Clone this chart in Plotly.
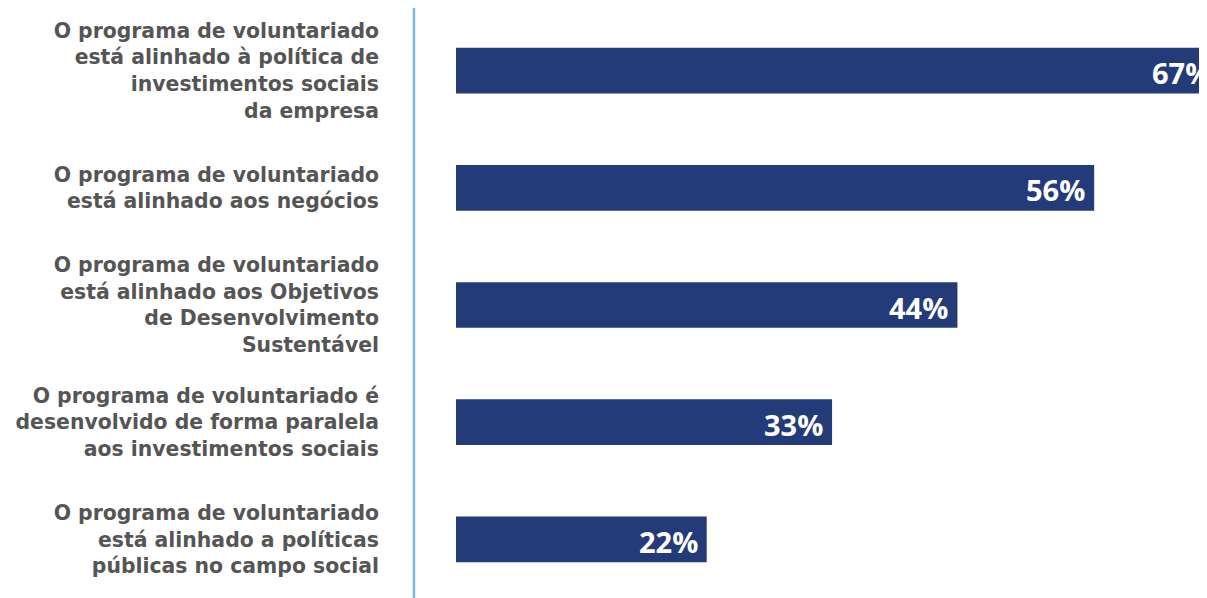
import plotly.graph_objects as go

categories = [
    "O programa de voluntariado<br>está alinhado à política de<br>investimentos sociais<br>da empresa",
    "O programa de voluntariado<br>está alinhado aos negócios",
    "O programa de voluntariado<br>está alinhado aos Objetivos<br>de Desenvolvimento<br>Sustentável",
    "O programa de voluntariado é<br>desenvolvido de forma paralela<br>aos investimentos sociais",
    "O programa de voluntariado<br>está alinhado a políticas<br>públicas no campo social",
]
values = [67, 56, 44, 33, 22]
value_labels = ["67%", "56%", "44%", "33%", "22%"]

BAR = "#243b7a"
XMAX = 65.9

fig = go.Figure()
fig.add_trace(go.Bar(
    x=values, y=categories, orientation="h",
    marker=dict(color=BAR, line=dict(width=0)),
    width=0.39, hoverinfo="skip",
))

for v, c, t in zip(values, categories, value_labels):
    fig.add_annotation(
        x=v / XMAX, xref="paper", y=c, yref="y",
        text=t, showarrow=False, xanchor="right", yanchor="middle",
        xshift=-7, yshift=-2,
        font=dict(family="Open Sans", size=29, color="white", weight=700),
    )

fig.add_shape(type="line", xref="paper", yref="paper",
              x0=-0.056, x1=-0.056, y0=0, y1=1.008,
              line=dict(color="#7ab8dc", width=2.5))

fig.update_layout(
    width=1199, height=590,
    margin=dict(l=448, r=0, t=4, b=0, autoexpand=False),
    plot_bgcolor="white", paper_bgcolor="white",
    showlegend=False,
    xaxis=dict(range=[0, XMAX], visible=False, fixedrange=True, automargin=False),
    yaxis=dict(autorange="reversed", showgrid=False, zeroline=False, automargin=False,
               showline=False, ticks="", ticklabelstandoff=76,
               tickfont=dict(family="DejaVu Sans", size=20.4, color="#555555", weight=700)),
)

fig.write_html("out.html")
